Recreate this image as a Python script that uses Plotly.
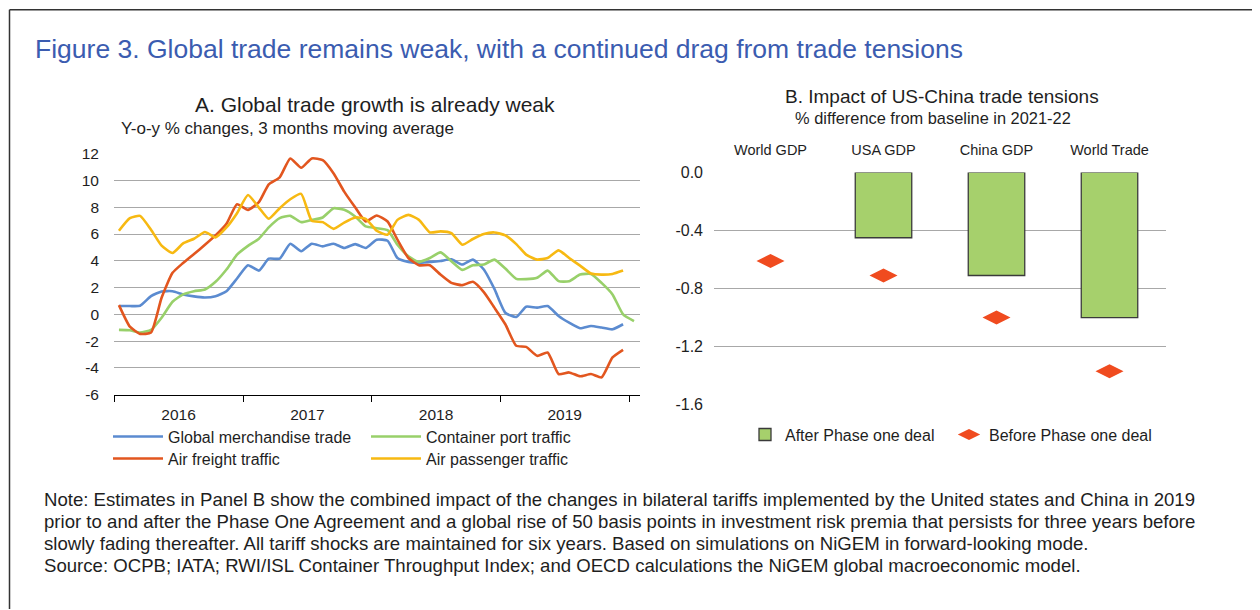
import pandas as pd
import plotly.graph_objects as go

# Panel A: monthly, Jan 2016 - Jan 2020 (y-o-y %, 3m moving average)
months = pd.date_range('2016-01-01', periods=49, freq='MS') + pd.Timedelta(days=14)

merchandise = [0.62, 0.62, 0.64, 1.36, 1.71, 1.73, 1.49, 1.34, 1.26, 1.36, 1.73, 2.68,
               3.67, 3.27, 4.16, 4.16, 5.28, 4.71, 5.28, 5.08, 5.28, 4.96, 5.25, 4.96,
               5.58, 5.50, 4.21, 3.92, 3.84, 3.92, 3.99, 4.11, 3.72, 4.09, 3.35, 1.90,
               0.12, -0.20, 0.57, 0.50, 0.62, -0.12, -0.62, -1.04, -0.87, -0.99, -1.12, -0.74]
container = [-1.16, -1.19, -1.36, -1.16, -0.25, 0.94, 1.49, 1.73, 1.86, 2.43, 3.35, 4.46,
             5.12, 5.65, 6.50, 7.19, 7.36, 6.89, 7.06, 7.24, 7.93, 7.81, 7.31, 6.57,
             6.44, 6.29, 5.20, 4.34, 3.92, 4.21, 4.63, 3.97, 3.32, 3.67, 3.72, 4.09,
             3.42, 2.65, 2.63, 2.73, 3.27, 2.48, 2.48, 2.97, 3.02, 2.35, 1.49, 0.00, -0.50]
air_freight = [0.69, -0.92, -1.46, -1.36, 1.24, 3.10, 3.84, 4.51, 5.20, 5.90, 6.77, 8.23,
               7.81, 8.38, 9.71, 10.24, 11.65, 10.95, 11.65, 11.52, 10.53, 9.17, 8.00, 6.94,
               7.39, 6.94, 5.58, 4.21, 3.67, 3.67, 2.97, 2.35, 2.18, 2.43, 1.66, 0.50,
               -0.74, -2.35, -2.43, -3.10, -2.85, -4.46, -4.34, -4.63, -4.46, -4.71, -3.22, -2.65]
air_passenger = [6.25, 7.19, 7.36, 6.32, 5.13, 4.58, 5.30, 5.65, 6.15, 5.75, 6.49, 7.56,
                 8.92, 7.98, 7.14, 7.93, 8.60, 9.00, 6.99, 6.89, 6.39, 6.86, 7.24, 7.14,
                 6.25, 5.95, 7.06, 7.43, 7.06, 6.12, 6.20, 6.07, 5.20, 5.63, 6.00, 6.12,
                 5.90, 5.25, 4.46, 4.09, 4.21, 4.78, 4.21, 3.64, 3.05, 2.97, 3.02, 3.27]

a_ticks = [12, 10, 8, 6, 4, 2, 0, -2, -4, -6]
a_ticktext = ['12', '10', '8', '6', '4', '2', '0', '-2', '-4', '-6']

# Panel B: % difference from baseline in 2021-22
categories = ['World GDP', 'USA GDP', 'China GDP', 'World Trade']
after_deal = [None, -0.45, -0.71, -1.0]
before_deal = [-0.61, -0.71, -1.0, -1.37]
b_ticks = [0.0, -0.4, -0.8, -1.2, -1.6]
b_ticktext = ['0.0', '-0.4', '-0.8', '-1.2', '-1.6']

FONT = 'Liberation Sans, Arial, sans-serif'
TXT = '#1e1e1e'
W, H = 1260, 610
OFF = 8  # page body margin around the plot div


def px_x(x):
    return (x - OFF) / W


def px_y(y):
    # small vertical correction measured on earlier renders
    y = (y - 8.4) / 0.971
    return 1 - (y - OFF) / H


fig = go.Figure()

series = [
    ('Global merchandise trade', merchandise, '#5b8bd0', 'legend'),
    ('Container port traffic', container, '#98d06a', 'legend'),
    ('Air freight traffic', air_freight, '#e2561f', 'legend3'),
    ('Air passenger traffic', air_passenger, '#f7b912', 'legend3'),
]
for name, vals, color, leg in series:
    fig.add_trace(go.Scatter(
        x=months[:len(vals)], y=vals, mode='lines', name=name,
        line=dict(color=color, width=2.6, shape='spline', smoothing=0.5),
        xaxis='x', yaxis='y', legend=leg,
    ))

fig.add_trace(go.Bar(
    x=categories, y=after_deal, name='After Phase one deal', width=0.5,
    marker=dict(color='#a6d06c', line=dict(color='#3a3a3a', width=1.3)),
    xaxis='x2', yaxis='y2', legend='legend2',
))
fig.add_trace(go.Scatter(
    x=categories, y=before_deal, mode='markers', name='Before Phase one deal',
    marker=dict(symbol='diamond-wide', size=20, color='#f04b1f'),
    xaxis='x2', yaxis='y2', legend='legend2',
))

legend_common = dict(orientation='h', xanchor='left', yanchor='middle',
                     font=dict(family=FONT, size=16, color=TXT),
                     bgcolor='rgba(0,0,0,0)', entrywidthmode='pixels')

fig.update_layout(
    width=W, height=H,
    margin=dict(l=0, r=0, t=0, b=0),
    paper_bgcolor='white', plot_bgcolor='white',
    font=dict(family=FONT, color=TXT),
    xaxis=dict(
        domain=[px_x(114), px_x(640)], anchor='y', type='date',
        range=['2016-01-01', '2020-02-01'], dtick='M12', tick0='2016-01-01',
        tickformat='%Y', ticklabelmode='period', ticks='outside', ticklen=6,
        tickcolor='#000', showline=True, linecolor='#000', linewidth=1,
        showgrid=False, tickfont=dict(size=15.5, color=TXT),
    ),
    yaxis=dict(
        domain=[px_y(394), px_y(153)], anchor='x', range=[-6, 12],
        tickvals=a_ticks, ticktext=a_ticktext, showgrid=True,
        gridcolor='#a8a8a8', gridwidth=1, zeroline=False,
        ticklabelstandoff=14, tickfont=dict(size=15.5, color=TXT),
    ),
    xaxis2=dict(
        domain=[px_x(714), px_x(1166)], anchor='y2', side='top', type='category',
        showline=False, ticks='', showgrid=False, ticklabelstandoff=14,
        tickfont=dict(size=14.5, color=TXT),
    ),
    yaxis2=dict(
        domain=[px_y(404), px_y(171.7)], anchor='x2', range=[-1.6, 0],
        tickvals=b_ticks, ticktext=b_ticktext, showgrid=True,
        gridcolor='#a8a8a8', gridwidth=1, zeroline=False,
        ticklabelstandoff=10, tickfont=dict(size=16, color=TXT),
    ),
    legend=dict(x=px_x(108), y=px_y(436), entrywidth=193, itemwidth=50, **legend_common),
    legend3=dict(x=px_x(108), y=px_y(458), entrywidth=193, itemwidth=50, **legend_common),
    legend2=dict(x=px_x(745), y=px_y(434), entrywidth=159, **legend_common),
    showlegend=True,
)

annotations = [
    dict(x=px_x(33), y=px_y(48), text='Figure 3. Global trade remains weak, with a continued drag from trade tensions',
         xanchor='left', font=dict(size=26.5, color='#3b5cb0')),
    dict(x=px_x(375), y=px_y(104), text='A. Global trade growth is already weak',
         xanchor='center', font=dict(size=21, color=TXT)),
    dict(x=px_x(119), y=px_y(128), text='Y-o-y % changes, 3 months moving average',
         xanchor='left', font=dict(size=17, color=TXT)),
    dict(x=px_x(942), y=px_y(96), text='B. Impact of US-China trade tensions',
         xanchor='center', font=dict(size=19, color=TXT)),
    dict(x=px_x(933), y=px_y(117), text='% difference from baseline in 2021-22',
         xanchor='center', font=dict(size=16.4, color=TXT)),
]
notes = [
    'Note: Estimates in Panel B show the combined impact of the changes in bilateral tariffs implemented by the United states and China in 2019',
    'prior to and after the Phase One Agreement and a global rise of 50 basis points in investment risk premia that persists for three years before',
    'slowly fading thereafter. All tariff shocks are maintained for six years. Based on simulations on NiGEM in forward-looking mode.',
    'Source: OCPB; IATA; RWI/ISL Container Throughput Index; and OECD calculations the NiGEM global macroeconomic model.',
]
for i, line in enumerate(notes):
    annotations.append(dict(x=px_x(42), y=px_y(499 + 22 * i), text=line, xanchor='left',
                            font=dict(size=18.6, color=TXT)))

for a in annotations:
    a.update(xref='paper', yref='paper', yanchor='middle', showarrow=False)
    a['font']['family'] = FONT
fig.update_layout(annotations=annotations)

# frame around the figure: only the top and left edges are visible
frame = dict(color='#333', width=1.5)
fig.add_shape(type='line', xref='paper', yref='paper', x0=px_x(9.5), x1=1.0,
              y0=px_y(9), y1=px_y(9), line=frame, layer='below')
fig.add_shape(type='line', xref='paper', yref='paper', x0=px_x(9.5), x1=px_x(9.5),
              y0=0.0, y1=px_y(9), line=frame, layer='below')

fig.write_html('out.html')
